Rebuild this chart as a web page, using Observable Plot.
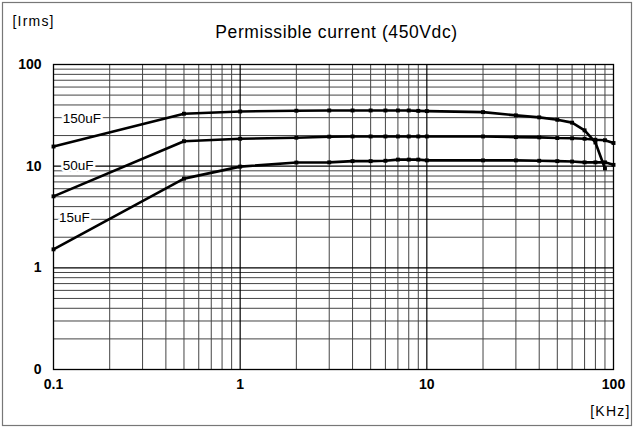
<!DOCTYPE html>
<html>
<head>
<meta charset="utf-8">
<script src="https://cdn.jsdelivr.net/npm/d3@7"></script>
<script src="https://cdn.jsdelivr.net/npm/@observablehq/plot@0.6"></script>
<style>
  html, body { margin: 0; padding: 0; background: #fff; }
  #chart svg { display: block; font-family: "Liberation Sans", Arial, sans-serif; }
</style>
</head>
<body>
<div id="chart"></div>
<script>
// ---- data ----
const freq150 = [0.1, 0.5, 1, 2, 3, 4, 5, 6, 7, 8, 9, 10, 20, 30, 40, 50, 60, 70, 80, 90];
const cur150  = [15.6, 32.8, 34.5, 35.1, 35.3, 35.3, 35.3, 35.3, 35.3, 35.3, 35.0, 34.8, 34.0, 31.6, 30.2, 28.6, 26.8, 22.5, 17.1, 9.5];
const freq50  = [0.1, 0.5, 1, 2, 3, 4, 5, 6, 7, 8, 9, 10, 20, 30, 40, 50, 60, 70, 80, 90, 100];
const cur50   = [5.05, 17.6, 18.6, 19.05, 19.5, 19.6, 19.6, 19.6, 19.6, 19.6, 19.6, 19.6, 19.6, 19.3, 19.2, 18.9, 18.8, 18.6, 18.2, 18.0, 16.9];
const freq15  = [0.1, 0.5, 1, 2, 3, 4, 5, 6, 7, 8, 9, 10, 20, 30, 40, 50, 60, 70, 80, 90, 100];
const cur15   = [1.52, 7.54, 9.9, 10.85, 10.9, 11.2, 11.2, 11.3, 11.6, 11.6, 11.6, 11.4, 11.4, 11.4, 11.3, 11.2, 11.1, 10.9, 10.9, 10.9, 10.3];

const seriesNames = ["150uF", "50uF", "15uF"];
const labelX = [0.112, 0.112, 0.107];
const labelY = [29.5, 10.0, 3.09];

const xTicks = [0.1, 1, 10, 100];
const xTickLabels = ["0.1", "1", "10", "100"];
const yTicks = [0.1, 1, 10, 100];
const yTickLabels = ["0", "1", "10", "100"];
const xMinorGrid = [0.2,0.3,0.4,0.5,0.6,0.7,0.8,0.9, 2,3,4,5,6,7,8,9, 20,30,40,50,60,70,80,90];
const yMinorGrid = [0.2,0.3,0.4,0.5,0.6,0.7,0.8,0.9, 2,3,4,5,6,7,8,9, 20,30,40,50,60,70,80,90];
const majorGrid = [1, 10];

const title = "Permissible current (450Vdc)";
const yUnit = "[Irms]";
const xUnit = "[KHz]";

// ---- build table ----
const rows = [];
[[freq150, cur150, "150uF"], [freq50, cur50, "50uF"], [freq15, cur15, "15uF"]].forEach(([fs, cs, s]) => {
  fs.forEach((f, i) => rows.push({series: s, f, c: cs[i]}));
});
const labels = seriesNames.map((s, i) => ({s, x: labelX[i], y: labelY[i]}));

const chart = Plot.plot({
  width: 634,
  height: 428,
  marginLeft: 53,
  marginRight: 21,
  marginTop: 64,
  marginBottom: 59,
  style: {fontFamily: "'Liberation Sans', Arial, sans-serif", background: "white"},
  x: {type: "log", domain: [0.1, 100], axis: null},
  y: {type: "log", domain: [0.1, 100], axis: null},
  marks: [
    Plot.ruleX(xMinorGrid, {stroke: "#444", strokeWidth: 1}),
    Plot.ruleY(yMinorGrid, {stroke: "#444", strokeWidth: 1}),
    Plot.ruleX(majorGrid, {stroke: "#000", strokeWidth: 1.2}),
    Plot.ruleY(majorGrid, {stroke: "#000", strokeWidth: 1.2}),
    Plot.frame({stroke: "#000", strokeWidth: 1.3}),
    Plot.axisX(xTicks, {
      tickSize: 0, tickPadding: 10, fontSize: 14, fontWeight: "bold",
      tickFormat: d => xTickLabels[xTicks.indexOf(d)], fill: "#000"
    }),
    Plot.axisY(yTicks, {
      tickSize: 0, tickPadding: 12, fontSize: 14, fontWeight: "bold",
      tickFormat: d => yTickLabels[yTicks.indexOf(d)], fill: "#000"
    }),
    Plot.line(rows, {x: "f", y: "c", z: "series", stroke: "#000", strokeWidth: 2.6, strokeLinejoin: "round"}),
    Plot.dot(rows, {x: "f", y: "c", symbol: "square", r: 2.2, fill: "#000"}),
    Plot.text(labels, {x: "x", y: "y", text: "s", textAnchor: "start", fontSize: 13.5,
      fill: "#000", stroke: "white", strokeWidth: 5, letterSpacing: 0.5}),
    Plot.text([title], {frameAnchor: "top", lineAnchor: "middle", dy: -32, dx: 3, fontSize: 17.5, fill: "#000"}),
    Plot.text([yUnit], {frameAnchor: "top-left", lineAnchor: "middle", dy: -43, dx: -41, fontSize: 14, fill: "#000", textAnchor: "start"}),
    Plot.text([xUnit], {frameAnchor: "bottom-right", lineAnchor: "middle", dy: 42, dx: 17, fontSize: 14, fill: "#000", textAnchor: "end"})
  ]
});

d3.select(chart).selectAll("text").filter(function() { return d3.select(this).text() === title; })
  .attr("letter-spacing", "0.6px");
d3.select(chart).selectAll("text").filter(function() { return d3.select(this).text() === yUnit || d3.select(this).text() === xUnit; })
  .attr("letter-spacing", "1.2px");

d3.select(chart).append("rect")
  .attr("x", 2.5).attr("y", 2.5).attr("width", 629).attr("height", 423)
  .attr("fill", "none").attr("stroke", "#777").attr("stroke-width", 1.2);

document.getElementById("chart").appendChild(chart);
</script>
</body>
</html>
